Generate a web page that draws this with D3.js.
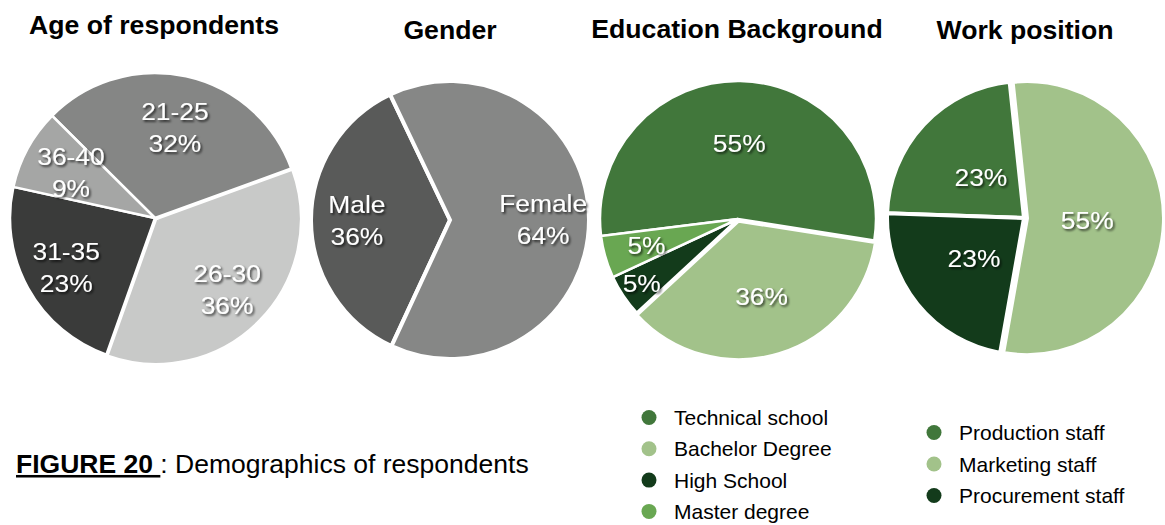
<!DOCTYPE html>
<html>
<head>
<meta charset="utf-8">
<title>Demographics of respondents</title>
<script src="https://cdn.jsdelivr.net/npm/d3@7/dist/d3.min.js"></script>
<style>
  html, body { margin: 0; padding: 0; background: #ffffff; }
  svg { display: block; }
  text { font-family: "Liberation Sans", Arial, Helvetica, sans-serif; }
</style>
</head>
<body>
<svg id="chart" width="1165" height="525"></svg>
<script>
// ---- data (percent of respondents) ----
const ageGroups = ["21-25", "26-30", "31-35", "36-40"];
const agePercent = [32, 36, 23, 9];

const genders = ["Male", "Female"];
const genderPercent = [36, 64];

const educationLevels = ["Technical school", "Bachelor Degree", "High School", "Master degree"];
const educationPercent = [55, 36, 5, 5];

const workPositions = ["Production staff", "Marketing staff", "Procurement staff"];
const workPercent = [23, 55, 23];

// ---- palettes ----
const greyShades = ["#858685", "#c8c9c8", "#3a3b3a", "#a5a6a5"];
const genderShades = ["#595a59", "#868786"];
const greenShades = ["#41773b", "#a2c28a", "#133b1b", "#69a752"];
const workShades = ["#41773b", "#a2c28a", "#133b1b"];

// ---- layout of the four pies ----
const charts = [
  { title: "Age of respondents", titleX: 154, titleY: 34,
    names: ageGroups, values: agePercent, colors: greyShades,
    cx: 155, cy: 218, r: 145, startDeg: -45.2, gap: 2.5,
    explode: [0, 1.5, 0, 0], labelR: [0.64, 0.69, 0.70, 0.66], showName: true },
  { title: "Gender", titleX: 450, titleY: 39,
    names: genders, values: genderPercent, colors: genderShades,
    cx: 450, cy: 220, r: 139, startDeg: -155.1, gap: 4,
    explode: [0, 0], labelR: [0.67, 0.67], showName: true },
  { title: "Education Background", titleX: 737, titleY: 38,
    names: educationLevels, values: educationPercent, colors: greenShades,
    cx: 738, cy: 219, r: 138, startDeg: -97.1, gap: 2.5,
    explode: [0, 2.5, 0, 0], labelR: [0.55, 0.57, 0.84, 0.69], showName: false },
  { title: "Work position", titleX: 1025, titleY: 39,
    names: workPositions, values: workPercent, colors: workShades,
    cx: 1024, cy: 218, r: 137, startDeg: -88, gap: 4,
    explode: [0, 3, 0], labelR: [0.43, 0.44, 0.47], showName: false }
];

// horizontal stretch of the typeface used for titles, slice labels and caption
const titleStretch = 1.065;
const labelStretch = 1.1;
const captionStretch = 1.04;

const svg = d3.select("#chart");
const rad = d => d * Math.PI / 180;

// soft shadow behind the slice labels
const defs = svg.append("defs");
defs.append("filter")
    .attr("id", "labelShadow")
    .attr("x", "-20%").attr("y", "-30%").attr("width", "150%").attr("height", "170%")
  .append("feDropShadow")
    .attr("dx", 1.6).attr("dy", 1.8)
    .attr("stdDeviation", 1.3)
    .attr("flood-color", "#000000")
    .attr("flood-opacity", 0.7);

charts.forEach(c => {
  const pie = d3.pie()
      .sort(null)
      .startAngle(rad(c.startDeg))
      .endAngle(rad(c.startDeg) + 2 * Math.PI);
  const arcs = pie(c.values);

  const arc = d3.arc().innerRadius(0).outerRadius(c.r);
  const color = d3.scaleOrdinal().domain(c.names).range(c.colors);

  const g = svg.append("g").attr("transform", `translate(${c.cx},${c.cy})`);

  const offset = (d, i) => {
    const mid = (d.startAngle + d.endAngle) / 2;
    const e = c.explode[i];
    return [Math.sin(mid) * e, -Math.cos(mid) * e];
  };

  g.selectAll("path.slice")
    .data(arcs)
    .join("path")
      .attr("class", "slice")
      .attr("d", arc)
      .attr("transform", (d, i) => `translate(${offset(d, i)})`)
      .attr("fill", (d, i) => color(c.names[i]))
      .attr("stroke", "#ffffff")
      .attr("stroke-width", c.gap)
      .attr("stroke-linejoin", "miter");

  // labels: category name (optional) and percentage, white with shadow
  const labels = g.selectAll("g.label")
    .data(arcs)
    .join("g")
      .attr("class", "label")
      .attr("filter", "url(#labelShadow)")
      .attr("transform", (d, i) => {
        const la = d3.arc().innerRadius(0).outerRadius(2 * c.r * c.labelR[i]);
        const [x, y] = la.centroid(d);
        const [ox, oy] = offset(d, i);
        return `translate(${x + ox},${y + oy})`;
      });

  labels.each(function (d, i) {
    const sel = d3.select(this);
    const lines = c.showName ? [c.names[i], d.data + "%"] : [d.data + "%"];
    const lh = 32;
    lines.forEach((t, k) => {
      const y = (k - (lines.length - 1) / 2) * lh + 8.5;
      sel.append("text")
        .attr("transform", `translate(0,${y}) scale(${labelStretch},1)`)
        .attr("text-anchor", "middle")
        .attr("font-size", "24px")
        .attr("fill", "#ffffff")
        .text(t);
    });
  });

  svg.append("text")
    .attr("transform", `translate(${c.titleX},${c.titleY}) scale(${titleStretch},1)`)
    .attr("text-anchor", "middle")
    .attr("font-size", "25px")
    .attr("font-weight", "bold")
    .attr("fill", "#000000")
    .text(c.title);
});

// ---- legends for the two green pies ----
function legend(names, colors, x, y0, step) {
  const color = d3.scaleOrdinal().domain(names).range(colors);
  const lg = svg.append("g").attr("transform", `translate(${x},${y0})`);
  const item = lg.selectAll("g")
    .data(names)
    .join("g")
      .attr("transform", (d, i) => `translate(0,${i * step})`);
  item.append("circle")
    .attr("cx", 0).attr("cy", -7.5).attr("r", 7.5)
    .attr("fill", d => color(d));
  item.append("text")
    .attr("x", 25).attr("y", 0)
    .attr("font-size", "21px")
    .attr("fill", "#000000")
    .text(d => d);
}
legend(educationLevels, greenShades, 649, 425, 31.3);
legend(workPositions, workShades, 934, 440, 31.5);

// ---- figure caption ----
const caption = svg.append("text")
  .attr("transform", `translate(16,473) scale(${captionStretch},1)`)
  .attr("font-size", "25.5px")
  .attr("fill", "#000000")
  .style("white-space", "pre");
caption.append("tspan")
  .attr("font-weight", "bold")
  .attr("text-decoration", "underline")
  .text("FIGURE 20 ");
caption.append("tspan")
  .text(": Demographics of respondents");
</script>
</body>
</html>
